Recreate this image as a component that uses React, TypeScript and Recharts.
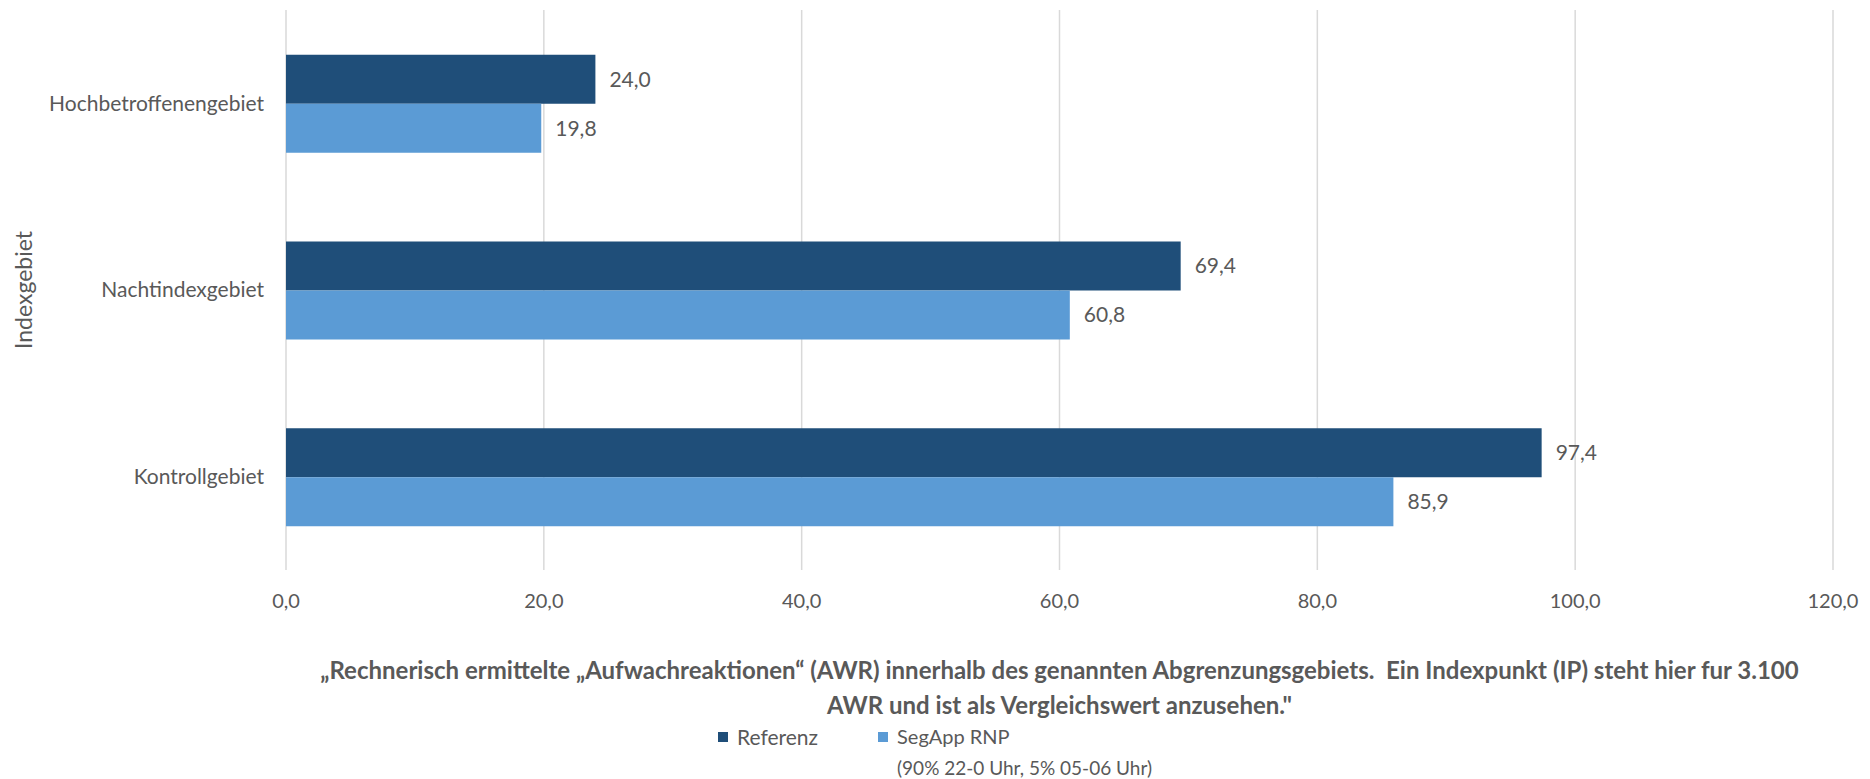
import { BarChart, Bar, XAxis, YAxis, CartesianGrid, LabelList, Label } from 'recharts';

const categories = ['Hochbetroffenengebiet', 'Nachtindexgebiet', 'Kontrollgebiet'];
const referenz = [24.0, 69.4, 97.4];
const segApp = [19.8, 60.8, 85.9];
const xTicks = [0, 20, 40, 60, 80, 100, 120];
const seriesNames = ['Referenz', 'SegApp RNP'];
const seriesNotes = ['', '(90% 22-0 Uhr, 5% 05-06 Uhr)'];
const xTitle = [
  '\u201eRechnerisch ermittelte \u201eAufwachreaktionen\u201c (AWR) innerhalb des genannten Abgrenzungsgebiets.\u00a0 Ein Indexpunkt (IP) steht hier fur 3.100',
  'AWR und ist als Vergleichswert anzusehen."',
];
const yTitle = 'Indexgebiet';

const colors = ['#1F4E79', '#5B9BD5'];
const textColor = '#595959';
const font = 'Lato, "Open Sans", sans-serif';

const data = categories.map((name, i) => ({ name, referenz: referenz[i], segApp: segApp[i] }));

const fmt = (v: number) => v.toFixed(1).replace('.', ',');

// legend drawn outside the chart so it doesn't eat plot height
function LegendBox() {
  return (
    <div
      style={{
        position: 'absolute', left: 0, top: 721, width: 1870,
        display: 'flex', justifyContent: 'center', alignItems: 'flex-start', gap: 60,
        fontFamily: font, fontSize: 20, color: textColor,
      }}
    >
      {seriesNames.map((name, i) => (
        <div key={name} style={{ display: 'flex', alignItems: 'flex-start' }}>
          <span style={{ width: 10, height: 10, backgroundColor: colors[i], marginTop: 11, marginRight: 9, display: 'inline-block' }} />
          <div style={{ lineHeight: '31px', fontSize: i === 0 ? 21 : 20 }}>
            <div>{name}</div>
            {seriesNotes[i] ? <div style={{ fontSize: 19 }}>{seriesNotes[i]}</div> : null}
          </div>
        </div>
      ))}
    </div>
  );
}

export default function App() {
  return (
    <div style={{ position: 'absolute', left: 0, top: 0, width: 1870, height: 779, background: '#fff' }}>
      <BarChart
        width={1870}
        height={779}
        data={data}
        layout="vertical"
        margin={{ top: 10, right: 37, left: 0, bottom: 169 }}
        barCategoryGap="24%"
        barGap={0}
      >
        <CartesianGrid horizontal={false} stroke="#D9D9D9" strokeWidth={1.5} />
        <XAxis
          type="number"
          domain={[0, 120]}
          ticks={xTicks}
          tickFormatter={fmt}
          axisLine={false}
          tickLine={false}
          tickSize={0}
          tickMargin={24}
          height={40}
          tick={{ fill: textColor, fontSize: 20, fontFamily: font }}
        >
          <Label
            content={({ viewBox }: any) => {
              const cx = viewBox.x + viewBox.width / 2;
              return (
                <text x={cx} textAnchor="middle" fill={textColor} fontFamily={font} fontSize={24} fontWeight="bold">
                  <tspan x={cx} y={viewBox.y + 109}>{xTitle[0]}</tspan>
                  <tspan x={cx} y={viewBox.y + 144}>{xTitle[1]}</tspan>
                </text>
              );
            }}
          />
        </XAxis>
        <YAxis
          type="category"
          dataKey="name"
          width={286}
          axisLine={false}
          tickLine={false}
          tickSize={0}
          tickMargin={22}
          tick={{ fill: textColor, fontSize: 21, fontFamily: font }}
        >
          <Label
            value={yTitle}
            angle={-90}
            position="insideLeft"
            offset={24}
            style={{ textAnchor: 'middle', fill: textColor, fontSize: 23, fontFamily: font }}
          />
        </YAxis>
        <Bar dataKey="referenz" name={seriesNames[0]} fill={colors[0]} isAnimationActive={false}>
          <LabelList dataKey="referenz" position="right" offset={14} formatter={fmt} fill={textColor} fontSize={21} fontFamily={font} />
        </Bar>
        <Bar dataKey="segApp" name={seriesNames[1]} fill={colors[1]} isAnimationActive={false}>
          <LabelList dataKey="segApp" position="right" offset={14} formatter={fmt} fill={textColor} fontSize={21} fontFamily={font} />
        </Bar>
      </BarChart>
      <LegendBox />
    </div>
  );
}
